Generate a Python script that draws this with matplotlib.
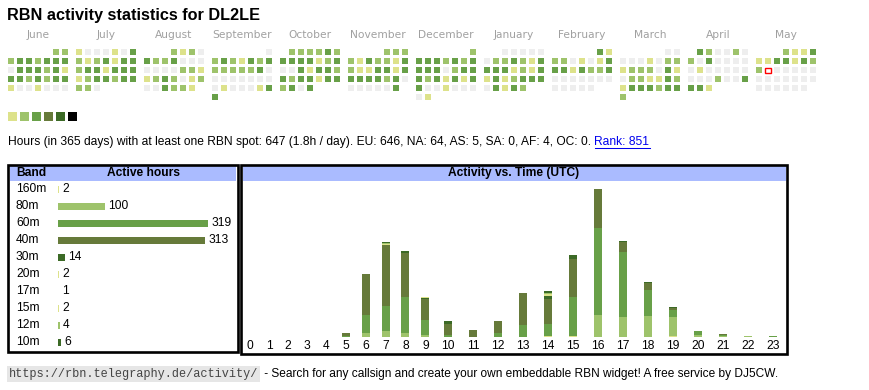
import datetime

import numpy as np
import matplotlib
matplotlib.use("Agg")
import matplotlib.pyplot as plt
from matplotlib.patches import Rectangle
from matplotlib.transforms import blended_transform_factory

W, H = 870, 390

# ------------------------------------------------------------------ data
CALLSIGN = "DL2LE"

MONTHS = ["June", "July", "August", "September", "October", "November",
          "December", "January", "February", "March", "April", "May"]
MONTH_FIRST = [(2024, 6), (2024, 7), (2024, 8), (2024, 9), (2024, 10), (2024, 11),
               (2024, 12), (2025, 1), (2025, 2), (2025, 3), (2025, 4), (2025, 5)]
# one char per day of the month: 0 = nothing, 1..6 = activity level, x = today
DAY_LEVELS = [
    "22" "2332333" "0333231" "3323233" "1001000",
    "1000103" "2123133" "2331333" "1233233" "220",
    "2120" "3223000" "0000221" "1232012" "003221",
    "0" "2321323" "2222230" "0000000" "0100013" "3",
    "222232" "3333123" "0031332" "3233133" "2303",
    "222" "2132213" "2113313" "3333230" "000003",
    "2" "3332323" "3330233" "3231313" "3001000" "01",
    "00000" "0223213" "3331213" "1312333" "03132",
    "31" "2201013" "3313223" "0000000" "00000",
    "00" "0001022" "1222031" "0221132" "1333233" "2",
    "320020" "2030000" "0100000" "0002003" "331",
    "2113" "1133132" "2x00000" "0000000" "000000",
]

TOTAL_HOURS = 647
DAYS = 365
CONTINENTS = ["EU", "NA", "AS", "SA", "AF", "OC"]
CONT_HOURS = [646, 64, 5, 0, 4, 0]
RANK = 851

BANDS = ["160m", "80m", "60m", "40m", "30m", "20m", "17m", "15m", "12m", "10m"]
BAND_HOURS = [2, 100, 319, 313, 14, 2, 1, 2, 4, 6]

HOURS = list(range(24))
#        0  1  2  3  4  5   6   7   8   9 10 11 12 13 14 15 16 17 18 19 20 21 22 23
h160m = [0, 0, 0, 0, 0, 0,  0,  0,  0,  0, 0, 0, 0, 0, 1, 1, 0, 0, 0, 1, 0, 0, 0, 0]
h80m  = [0, 0, 0, 0, 0, 0,  4,  5,  4,  2, 0, 0, 0, 0, 0, 0, 20, 18, 19, 17, 2, 1, 1, 0]
h60m  = [0, 0, 0, 0, 0, 1, 16, 23, 32, 13, 2, 0, 4, 11, 11, 35, 77, 58, 23, 6, 3, 1, 0, 1]
h40m  = [0, 0, 0, 0, 0, 3, 36, 54, 39, 19, 10, 6, 10, 28, 22, 34, 35, 9, 6, 2, 0, 1, 0, 0]
h30m  = [0, 0, 0, 0, 0, 0,  0,  0,  2,  1, 2, 0, 0, 0, 3, 2, 0, 1, 1, 1, 0, 0, 0, 0]
h20m  = [0, 0, 0, 0, 0, 0,  0,  1,  0,  1, 0, 0, 0, 0, 0, 0, 0, 0, 0, 0, 0, 0, 0, 0]
h17m  = [0, 0, 0, 0, 0, 0,  0,  0,  0,  0, 0, 0, 0, 0, 1, 0, 0, 0, 0, 0, 0, 0, 0, 0]
h15m  = [0, 0, 0, 0, 0, 0,  0,  0,  0,  0, 0, 0, 0, 0, 0, 0, 0, 0, 0, 0, 0, 0, 0, 0]
h12m  = [0, 0, 0, 0, 0, 0,  0,  1,  0,  0, 0, 0, 0, 0, 1, 0, 0, 0, 0, 0, 0, 0, 0, 0]
h10m  = [0, 0, 0, 0, 0, 0,  0,  1,  0,  0, 0, 0, 0, 0, 2, 1, 0, 0, 0, 0, 0, 0, 0, 0]

# ------------------------------------------------------------------ style
LEVEL_COLORS = ["#eeeeee", "#dde28b", "#9ec36b", "#68a048", "#667a3a", "#3c6a26", "#000000"]
BAND_COLORS = ["#dde28b", "#9ec36b", "#68a048", "#667a3a", "#3c6a26",
               "#dde28b", "#dde28b", "#dde28b", "#9ec36b", "#3c6a26"]
HEAD_BG = "#aabbff"
SANS = "Liberation Sans"
FS = 8.65

fig = plt.figure(figsize=(W / 100, H / 100), dpi=100)
fig.patch.set_facecolor("white")


def px_axes(x0, y0, x1, y1):
    return fig.add_axes([x0 / W, 1 - y1 / H, (x1 - x0) / W, (y1 - y0) / H])


bg = fig.add_axes([0, 0, 1, 1])
bg.set_xlim(0, W)
bg.set_ylim(H, 0)
bg.axis("off")

bg.text(7.5, 15.5, f"RBN activity statistics for {CALLSIGN}", fontsize=11.7,
        fontweight="bold", family=SANS, va="center")

# calendar heatmap: a 7 x week block per month
for m, ((yr, mo), name, days) in enumerate(zip(MONTH_FIRST, MONTHS, DAY_LEVELS)):
    x0 = 8 + 68 * m
    bg.text(x0 + 30, 35, name, fontsize=7.7, color="#a0a0a0", ha="center",
            va="center", family="DejaVu Sans")
    wd = datetime.date(yr, mo, 1).weekday()
    for d, c in enumerate(days):
        pos = wd + d
        x, y = x0 + 9 * (pos % 7), 49 + 9 * (pos // 7)
        if c == "x":
            bg.add_patch(Rectangle((x + 0.5, y + 0.5), 5.5, 5.5, facecolor="white",
                                   edgecolor="red", lw=1))
        else:
            bg.add_patch(Rectangle((x, y), 6.4, 6.4, facecolor=LEVEL_COLORS[int(c)],
                                   lw=0))

for i, col in enumerate(LEVEL_COLORS[1:]):
    bg.add_patch(Rectangle((8 + 12 * i, 111.5), 9.5, 9.5, facecolor=col, lw=0))

# summary line
cont = ", ".join(f"{c}: {v}" for c, v in zip(CONTINENTS, CONT_HOURS))
summary = (f"Hours (in {DAYS} days) with at least one RBN spot: {TOTAL_HOURS} "
           f"({TOTAL_HOURS / DAYS:.1f}h / day). {cont}. ")
t_sum = bg.text(8, 142, summary, fontsize=FS, family=SANS, va="center")

# footer
t_url = bg.text(9, 374, "https://rbn.telegraphy.de/activity/", fontsize=8.55,
                family="Liberation Mono", color="#444444", va="center",
                bbox=dict(facecolor="#e6e6e6", edgecolor="none", pad=1.2))

# boxes
bg.add_patch(Rectangle((10, 166), 226, 15, facecolor=HEAD_BG, lw=0))
bg.add_patch(Rectangle((243, 166), 543, 15, facecolor=HEAD_BG, lw=0))
bg.add_patch(Rectangle((8.5, 164.5), 229.5, 187, facecolor="none",
                       edgecolor="black", lw=1.9))
bg.add_patch(Rectangle((241, 164.5), 546.5, 189.5, facecolor="none",
                       edgecolor="black", lw=1.9))
bg.text(16, 173, "Band", fontsize=FS, fontweight="bold", family=SANS, va="center")
bg.text(144, 173, "Active hours", fontsize=FS, fontweight="bold", family=SANS,
        va="center", ha="center")
bg.text(514, 173, "Activity vs. Time (UTC)", fontsize=FS, fontweight="bold",
        family=SANS, va="center", ha="center")

# band table
ta = px_axes(58, 180.5, 236, 350.8)
ta.axis("off")
ta.set_xlim(0, 178 / 0.47)
ta.set_ylim(len(BANDS) - 0.5, -0.5)
ta.barh(range(len(BANDS)), BAND_HOURS, height=0.41, color=BAND_COLORS)
for i, (b, v) in enumerate(zip(BANDS, BAND_HOURS)):
    ta.annotate(str(v), (v, i), xytext=(2.4, 0), textcoords="offset points",
                va="center", fontsize=FS, family=SANS)
tr = blended_transform_factory(bg.transData, ta.transData)
for i, b in enumerate(BANDS):
    ta.text(16, i, b, transform=tr, va="center", fontsize=FS, family=SANS)

# activity vs. time
hourly = np.array([h160m, h80m, h60m, h40m, h30m, h20m, h17m, h15m, h12m, h10m])
totals = hourly.sum(axis=0)
col_w = np.array([25 if h >= 10 else (20 if t > 0 else 19) for h, t in zip(HOURS, totals)])
centers = 240.5 + np.cumsum(col_w) - col_w / 2

ha_ = px_axes(241, 183, 788, 337)
ha_.set_xlim(241, 788)
ha_.set_ylim(0, totals.max() * 154 / 148)
ha_.patch.set_alpha(0)
for s in ha_.spines.values():
    s.set_visible(False)
ha_.set_yticks([])
bottom = np.zeros(len(HOURS))
for row, col in zip(hourly, BAND_COLORS):
    ha_.bar(centers, row, width=8, bottom=bottom, color=col, lw=0)
    bottom += row
ha_.set_xticks(centers, [str(h) for h in HOURS])
ha_.tick_params(axis="x", length=0, pad=2.0, labelsize=FS)
for lab in ha_.get_xticklabels():
    lab.set_family(SANS)

# texts placed after measuring
fig.canvas.draw()
inv = bg.transData.inverted()
x_end = inv.transform(t_sum.get_window_extent().get_points())[1, 0]
t_rank = bg.text(x_end, 142, f"Rank: {RANK}", fontsize=FS, family=SANS,
                 va="center", color="#0000ee")
fig.canvas.draw()
rx = inv.transform(t_rank.get_window_extent().get_points())[:, 0]
bg.plot([rx[0] + 0.5, rx[1]], [147.5, 147.5], color="#0000ee", lw=0.75)

url_end = inv.transform(t_url.get_bbox_patch().get_window_extent().get_points())[1, 0]
bg.text(url_end + 1, 374, " - Search for any callsign and create your own embeddable "
        "RBN widget! A free service by DJ5CW.", fontsize=8.6, family=SANS, va="center")

fig.savefig("out.png", dpi=100)
